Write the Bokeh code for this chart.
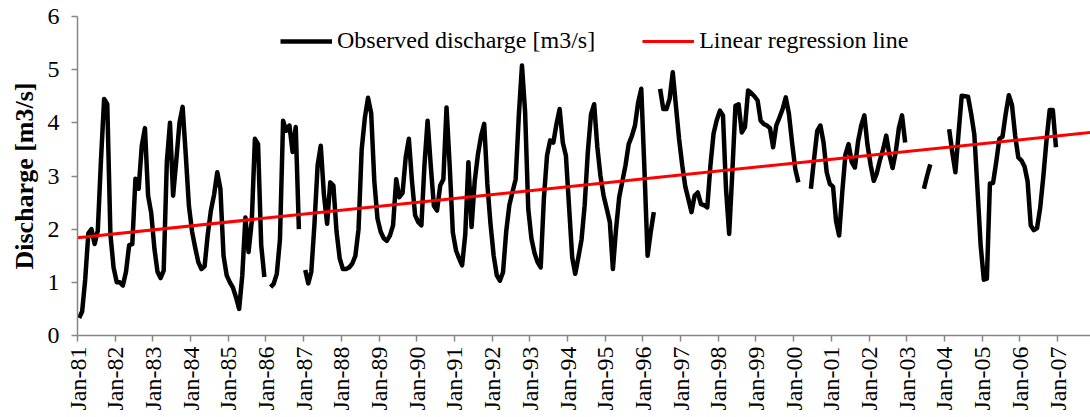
import math
import pandas as pd
from bokeh.plotting import figure
from bokeh.models import FixedTicker, DatetimeTickFormatter, Range1d
from bokeh.embed import file_html
from bokeh.resources import INLINE

NA = float("nan")

# Monthly observed discharge [m3/s], Jan..Dec of each year (NA = missing)
q1981 = [0.33, 0.45, 1.05, 1.92, 2.00, 1.72, 1.97, 3.30, 4.45, 4.35, 1.90, 1.28]
q1982 = [1.00, 1.00, 0.94, 1.20, 1.70, 1.72, 2.95, 2.76, 3.57, 3.90, 2.63, 2.30]
q1983 = [1.63, 1.20, 1.08, 1.22, 3.26, 4.00, 2.63, 3.30, 4.00, 4.30, 3.40, 2.44]
q1984 = [1.95, 1.65, 1.38, 1.25, 1.30, 1.90, 2.35, 2.65, 3.07, 2.76, 1.50, 1.13]
q1985 = [1.00, 0.90, 0.72, 0.50, 1.13, 2.22, 1.57, 2.15, 3.70, 3.60, 1.70, 1.10]
q1986 = [NA, 0.91, 0.97, 1.16, 1.80, 4.04, 3.85, 3.95, 3.45, 3.92, 2.00, NA]
q1987 = [1.23, 0.98, 1.20, 2.10, 3.20, 3.57, 2.65, 2.10, 2.88, 2.82, 1.95, 1.45]
q1988 = [1.25, 1.25, 1.28, 1.35, 1.50, 2.00, 3.50, 4.10, 4.47, 4.18, 2.90, 2.20]
q1989 = [1.95, 1.83, 1.78, 1.88, 2.07, 2.94, 2.60, 2.68, 3.35, 3.70, 2.90, 2.26]
q1990 = [2.13, 2.07, 3.20, 4.04, 3.20, 2.44, 2.35, 2.82, 2.94, 4.29, 3.20, 1.94]
q1991 = [1.60, 1.45, 1.32, 1.90, 3.26, 2.04, 2.90, 3.40, 3.75, 3.98, 2.85, 2.10]
q1992 = [1.50, 1.13, 1.03, 1.19, 1.95, 2.45, 2.70, 2.94, 4.14, 5.08, 4.20, 2.38]
q1993 = [1.82, 1.55, 1.38, 1.28, 2.57, 3.38, 3.67, 3.63, 3.98, 4.26, 3.63, 3.38]
q1994 = [2.40, 1.47, 1.16, 1.47, 1.80, 2.45, 3.45, 4.16, 4.35, 3.55, 3.00, 2.63]
q1995 = [2.38, 2.13, 1.25, 2.00, 2.60, 2.90, 3.20, 3.60, 3.75, 3.95, 4.38, 4.64]
q1996 = [3.10, 1.50, 1.94, 2.32, NA, 4.64, 4.26, 4.26, 4.45, 4.95, 4.32, 3.70]
q1997 = [3.20, 2.80, 2.57, 2.32, 2.63, 2.69, 2.47, 2.45, 2.41, 3.20, 3.80, 4.05]
q1998 = [4.23, 4.14, 2.76, 1.91, 3.07, 4.32, 4.35, 3.82, 3.92, 4.61, 4.56, 4.50]
q1999 = [4.42, 4.04, 3.98, 3.95, 3.90, 3.54, 3.95, 4.10, 4.26, 4.48, 4.17, 3.63]
q2000 = [3.13, 2.88, NA, NA, NA, 2.76, 3.32, 3.85, 3.95, 3.63, 3.07, 2.85]
q2001 = [2.80, 2.15, 1.88, 2.70, 3.40, 3.60, 3.26, 3.16, 3.65, 3.95, 4.14, 3.58]
q2002 = [3.20, 2.91, 3.05, 3.30, 3.50, 3.76, 3.40, 3.15, 3.45, 3.90, 4.14, 3.63]
q2003 = [NA, NA, NA, NA, NA, 2.76, 3.00, 3.22, NA, NA, NA, NA]
q2004 = [NA, 3.88, 3.45, 3.07, 3.80, 4.51, 4.50, 4.49, 4.17, 3.78, 2.75, 1.70]
q2005 = [1.05, 1.07, 2.86, 2.87, 3.26, 3.70, 3.74, 4.17, 4.52, 4.33, 3.76, 3.35]
q2006 = [3.29, 3.18, 2.90, 2.07, 1.98, 2.02, 2.40, 3.00, 3.68, 4.24, 4.24, 3.54]

years = list(range(1981, 2007))
yearly = [q1981, q1982, q1983, q1984, q1985, q1986, q1987, q1988, q1989,
          q1990, q1991, q1992, q1993, q1994, q1995, q1996, q1997, q1998,
          q1999, q2000, q2001, q2002, q2003, q2004, q2005, q2006]

# Linear regression line (start / end of the plotted span)
reg_dates = ["1981-01-01", "2007-11-16"]
reg_values = [1.84, 3.82]

tick_years = list(range(1981, 2008))
y_ticks = [0, 1, 2, 3, 4, 5, 6]

# ---- build the monthly series (points sit in the middle of each month) ----
dates, values = [], []
for y, row in zip(years, yearly):
    for m, v in enumerate(row, start=1):
        start = pd.Timestamp(year=y, month=m, day=1)
        end = start + pd.offsets.MonthBegin(1)
        dates.append(start + (end - start) / 2)
        values.append(v)

reg_x = [pd.Timestamp(d) for d in reg_dates]

FONT = "Liberation Serif"
AXIS_GREY = "#868686"

p = figure(width=1090, height=417, x_axis_type="datetime",
           output_backend="svg", toolbar_location=None,
           x_range=Range1d(reg_x[0], reg_x[1]), y_range=Range1d(0, 6),
           min_border_left=77, min_border_right=0,
           min_border_top=16, min_border_bottom=82)

p.line(dates, values, line_color="black", line_width=4.5, line_join="round",
       legend_label="Observed discharge [m3/s]")
p.line(reg_x, reg_values, line_color="#FF0000", line_width=3,
       legend_label="Linear regression line")

p.outline_line_color = None
p.xgrid.grid_line_color = None
p.ygrid.grid_line_color = None
p.background_fill_color = "white"
p.border_fill_color = "white"

# x axis
tick_ms = [pd.Timestamp(year=y, month=1, day=1).value // 10**6 for y in tick_years]
p.xaxis.ticker = FixedTicker(ticks=tick_ms)
fmt = "%b-%y"
p.xaxis.formatter = DatetimeTickFormatter(
    microseconds=fmt, milliseconds=fmt, seconds=fmt, minsec=fmt, minutes=fmt,
    hourmin=fmt, hours=fmt, days=fmt, months=fmt, years=fmt)
p.xaxis.major_label_orientation = math.pi / 2
p.xaxis.major_label_text_font = FONT
p.xaxis.major_label_text_font_size = "24px"
p.xaxis.major_label_text_color = "black"
p.xaxis.major_label_standoff = 5
p.xaxis.major_tick_in = 0
p.xaxis.major_tick_out = 6
p.xaxis.minor_tick_line_color = None
p.xaxis.axis_line_color = AXIS_GREY
p.xaxis.major_tick_line_color = AXIS_GREY
p.xaxis.axis_line_width = 1.5
p.xaxis.major_tick_line_width = 1.5

# y axis
p.yaxis.ticker = FixedTicker(ticks=y_ticks)
p.yaxis.major_label_text_font = FONT
p.yaxis.major_label_text_font_size = "24px"
p.yaxis.major_label_text_color = "black"
p.yaxis.major_label_standoff = 12
p.yaxis.major_tick_in = 0
p.yaxis.major_tick_out = 6
p.yaxis.minor_tick_line_color = None
p.yaxis.axis_line_color = AXIS_GREY
p.yaxis.major_tick_line_color = AXIS_GREY
p.yaxis.axis_line_width = 1.5
p.yaxis.major_tick_line_width = 1.5
p.yaxis.axis_label = "Discharge [m3/s]"
p.yaxis.axis_label_text_font = FONT
p.yaxis.axis_label_text_font_size = "26px"
p.yaxis.axis_label_text_font_style = "bold"
p.yaxis.axis_label_text_color = "black"
p.yaxis.axis_label_standoff = 6

# legend
lg = p.legend[0]
lg.orientation = "horizontal"
lg.location = (203, 281)
lg.border_line_color = None
lg.background_fill_alpha = 0
lg.label_text_font = FONT
lg.label_text_font_size = "24px"
lg.label_text_color = "black"
lg.glyph_width = 52
lg.glyph_height = 24
lg.label_standoff = 5
lg.spacing = 47
lg.padding = 0
lg.margin = 0

open("out.html", "w").write(file_html(p, INLINE))
